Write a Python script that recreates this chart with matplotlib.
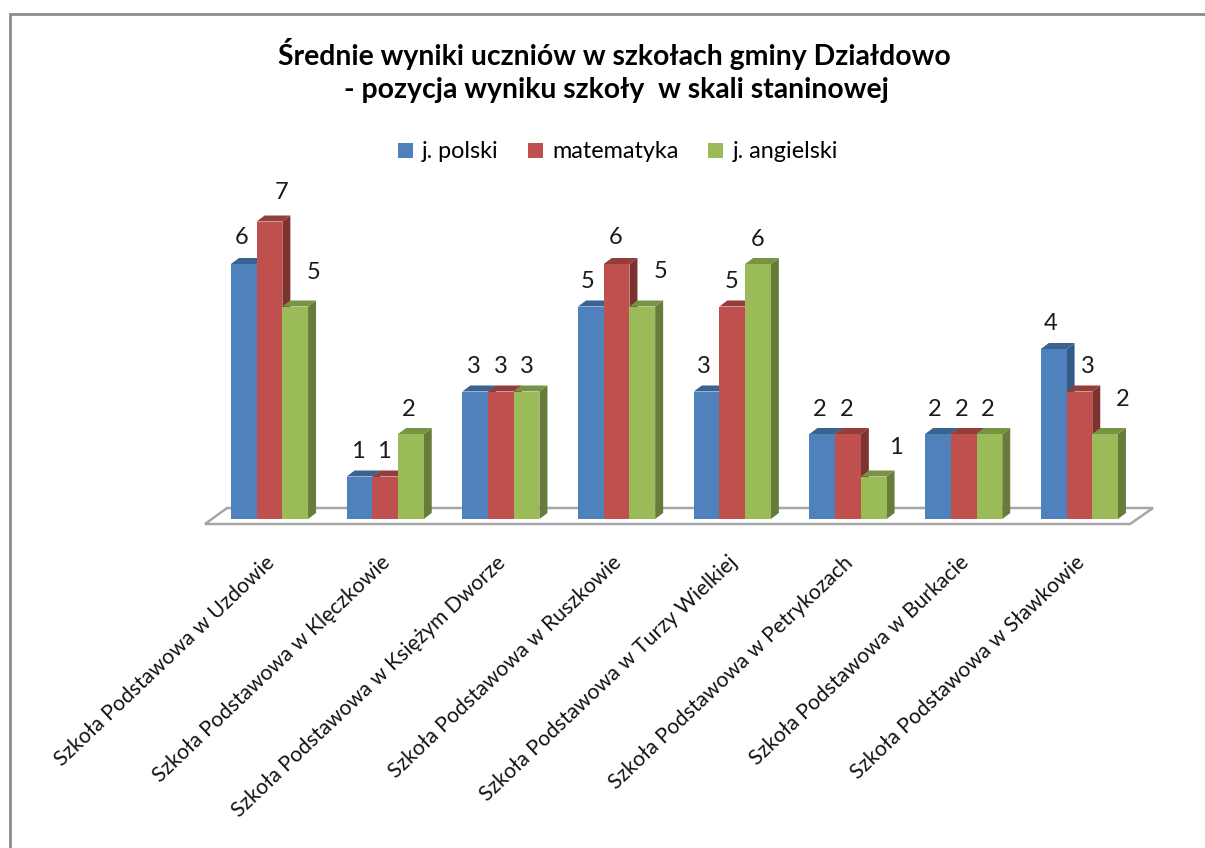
import matplotlib
matplotlib.use("Agg")
import matplotlib.pyplot as plt
from matplotlib.patches import Rectangle
from matplotlib.transforms import ScaledTranslation
import numpy as np

plt.rcParams['font.family'] = ['Lato', 'DejaVu Sans']

szkoly = ["Szkoła Podstawowa w Uzdowie", "Szkoła Podstawowa w Klęczkowie",
          "Szkoła Podstawowa w Księżym Dworze", "Szkoła Podstawowa w Ruszkowie",
          "Szkoła Podstawowa w Turzy Wielkiej", "Szkoła Podstawowa w Petrykozach",
          "Szkoła Podstawowa w Burkacie", "Szkoła Podstawowa w Sławkowie"]
polski = [6, 1, 3, 5, 3, 2, 2, 4]
matematyka = [7, 1, 3, 6, 5, 2, 2, 3]
angielski = [5, 2, 3, 5, 6, 1, 2, 2]

W, H = 1205, 848
# pixel box of the plot: value 0 at y=519, one unit = 42.5 px, one group = 115.7 px
px_x = 115.7
px_y = 42.5
x0_px = 269.5
y0_px = 519
left, right, top = 205, 1153, 180

fig = plt.figure(figsize=(W/100, H/100), dpi=100, facecolor='white')
ax = fig.add_axes([left/W, 1-y0_px/H, (right-left)/W, (y0_px-top)/H])
ax.set_xlim((left-x0_px)/px_x, (right-x0_px)/px_x)
ax.set_ylim(0, (y0_px-top)/px_y)
for s in ax.spines.values():
    s.set_visible(False)
ax.patch.set_alpha(0)
ax.set_yticks([])

bw = 25.7/px_x
dx = 8/px_x
dy = 6/px_y
x = np.arange(len(szkoly))

# floor
fx = (np.array([205, 227, 1153, 1130, 205])-x0_px)/px_x
fy = (y0_px-np.array([524, 508, 508, 524, 524]))/px_y
ax.fill(fx, fy, facecolor='white', edgecolor='#a6a6a6', lw=1.8, clip_on=False, zorder=1)

serie = [("j. polski", polski, '#4F81BD', '#3B6391', '#345A86'),
         ("matematyka", matematyka, '#C0504D', '#953D3B', '#7E3230'),
         ("j. angielski", angielski, '#9BBB59', '#799345', '#677C3A')]

uchwyty = []
for k, (nazwa, wart, kol, gora, bok) in enumerate(serie):
    pos = x + (k-1)*bw
    for p, v in zip(pos, wart):
        ax.fill([p+bw/2, p+bw/2+dx, p+bw/2+dx, p+bw/2],
                [0, dy, v+dy, v], color=bok, lw=0, zorder=2+k, clip_on=False)
        ax.fill([p-bw/2, p-bw/2+dx, p+bw/2+dx, p+bw/2],
                [v, v+dy, v+dy, v], color=gora, lw=0, zorder=2+k, clip_on=False)
    b = ax.bar(pos, wart, bw, color=kol, zorder=2.5+k, label=nazwa, clip_on=False)
    uchwyty.append(b)

# label shifts in px against the default place above the bar
przes_x = [[-2, 12, 18], [-2, -1, -2], [-1, 0, 0], [-3, -1, 18],
           [-3, -1, 0], [-3, -1, 22], [-3, -2, -2], [-3, 8, 18]]
przes_y = [[26, 29, 34], [25, 25, 25], [25, 25, 25], [25, 26, 35],
           [25, 25, 25], [25, 25, 29], [25, 25, 25], [25, 25, 34]]
for k, (nazwa, wart, kol, gora, bok) in enumerate(serie):
    for i, v in enumerate(wart):
        ax.annotate(str(v), (x[i]+(k-1)*bw, v),
                    xytext=(przes_x[i][k]*0.72, przes_y[i][k]*0.72),
                    textcoords='offset points', ha='center', va='center',
                    fontsize=17, color='#1a1a1a', zorder=10, annotation_clip=False)

ax.set_xticks(x)
ax.set_xticklabels(szkoly, rotation=43.5, ha='right', va='top', rotation_mode='anchor',
                   fontsize=15.2, color='#111111')
ax.tick_params(axis='x', length=0, pad=24)
przesun = ScaledTranslation(-5/100, 0, fig.dpi_scale_trans)
for t in ax.get_xticklabels():
    t.set_transform(t.get_transform() + przesun)

fig.text(614/W, 1-54/H, "Średnie wyniki uczniów w szkołach gminy Działdowo",
         ha='center', va='center', fontsize=20.4, fontweight='bold', color='black')
fig.text(616/W, 1-90/H, "- pozycja wyniku szkoły  w skali staninowej",
         ha='center', va='center', fontsize=20.4, fontweight='bold', color='black')

fig.legend(handles=uchwyty, loc='center', bbox_to_anchor=(618/W, 1-152/H), ncol=3,
           frameon=False, fontsize=16.8, handlelength=0.65, handleheight=0.65,
           handletextpad=0.4, columnspacing=1.25)

# outer frame
fig.add_artist(Rectangle((10/W, -0.05), 1.2, 1.05-14/H, transform=fig.transFigure,
                         facecolor='none', edgecolor='#8c8c8c', lw=2))

fig.savefig('out.png', dpi=100)
